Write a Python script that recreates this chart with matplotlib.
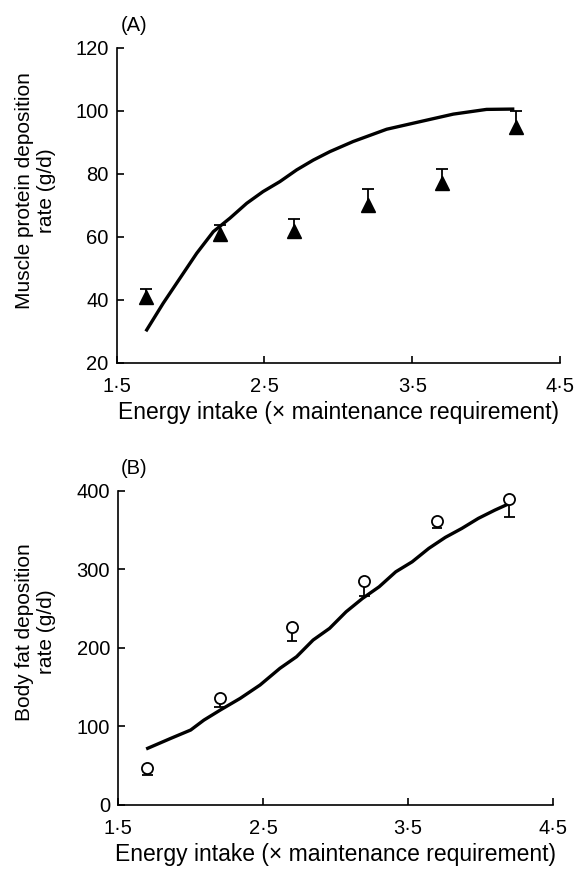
import matplotlib
matplotlib.use('Agg')
import matplotlib.pyplot as plt
import numpy as np

plt.rcParams['font.family'] = ['Liberation Sans', 'DejaVu Sans']

# energy intake levels (x maintenance)
intake = [1.7, 2.2, 2.7, 3.2, 3.7, 4.2]

# (A) muscle protein deposition, observed mean and top of error bar
protein_obs = [41, 61, 62, 70, 77, 95]
protein_top = [43.6, 63.7, 65.6, 75.2, 81.6, 100.1]
# model curve
protein_x = [1.703, 1.815, 1.928, 2.041, 2.154, 2.267, 2.38, 2.49, 2.605, 2.718, 2.83,
             2.943, 3.10, 3.327, 3.552, 3.778, 4.003, 4.18]
protein_y = [30.5, 39.0, 46.9, 54.8, 61.7, 66.0, 70.7, 74.4, 77.6, 81.3, 84.4,
             87.1, 90.3, 94.2, 96.6, 99.0, 100.5, 100.6]

# (B) body fat deposition, observed mean and bottom of error bar
fat_obs = [47, 136, 227, 285, 361, 389]
fat_bottom = [38, 125, 209, 266, 352, 366]
fat_x = [1.703, 1.863, 2.0, 2.091, 2.205, 2.342, 2.479, 2.616, 2.731, 2.845, 2.959, 3.073,
         3.187, 3.301, 3.416, 3.529, 3.644, 3.758, 3.872, 3.986, 4.10, 4.192]
fat_y = [72.1, 84.8, 95.4, 108, 120.9, 135.7, 152.7, 173.9, 188.7, 209.9, 224.8, 245.9,
         263, 277.7, 296.8, 309.5, 326.6, 340.6, 352, 364.8, 375.3, 383]

xticks = [1.5, 2.5, 3.5, 4.5]
xticklabels = ['1·5', '2·5', '3·5', '4·5']

fig = plt.figure(figsize=(5.77, 8.69), dpi=100)
axA = fig.add_axes([0.2023, 0.5823, 0.7682, 0.3625])
axB = fig.add_axes([0.2050, 0.0737, 0.7530, 0.3616])

tick_fs = 14.5
xlab_fs = 16.5
ylab_fs = 15


def style(ax, ylim, yticks):
    ax.set_xlim(1.5, 4.5)
    ax.set_ylim(*ylim)
    ax.set_xticks(xticks)
    ax.set_xticklabels(xticklabels)
    ax.set_yticks(yticks)
    for s in ['top', 'right']:
        ax.spines[s].set_visible(False)
    for s in ['left', 'bottom']:
        ax.spines[s].set_linewidth(1.2)
    ax.tick_params(direction='in', length=5, width=1.2, labelsize=tick_fs)
    ax.tick_params(axis='x', pad=10)
    ax.tick_params(axis='y', pad=6)
    ax.set_xlabel('Energy intake (× maintenance requirement)', fontsize=xlab_fs, labelpad=4)


# panel A
style(axA, (20, 120), [20, 40, 60, 80, 100, 120])
axA.plot(protein_x, protein_y, color='black', lw=2.4, zorder=2)
axA.vlines(intake, protein_obs, protein_top, color='black', lw=1.3, zorder=3)
axA.hlines(protein_top, np.array(intake) - 0.04, np.array(intake) + 0.04, color='black', lw=1.3, zorder=3)
axA.plot(intake, protein_obs, linestyle='none', marker='^', ms=10, color='black', zorder=4, clip_on=False)
axA.set_ylabel('Muscle protein deposition\nrate (g/d)', fontsize=ylab_fs)
axA.yaxis.set_label_coords(-0.137, 0.547)
axA.text(0.01, 1.07, '(A)', transform=axA.transAxes, fontsize=tick_fs, va='center')

# panel B
style(axB, (0, 400), [0, 100, 200, 300, 400])
axB.plot(fat_x, fat_y, color='black', lw=2.4, zorder=2)
axB.vlines(intake, fat_bottom, fat_obs, color='black', lw=1.3, zorder=3)
axB.hlines(fat_bottom, np.array(intake) - 0.037, np.array(intake) + 0.037, color='black', lw=1.3, zorder=3)
axB.plot(intake, fat_obs, linestyle='none', marker='o', ms=8, mfc='white', mec='black', mew=1.3, zorder=4)
axB.set_ylabel('Body fat deposition\nrate (g/d)', fontsize=ylab_fs)
axB.yaxis.set_label_coords(-0.143, 0.551)
axB.text(0.006, 1.072, '(B)', transform=axB.transAxes, fontsize=tick_fs, va='center')

fig.savefig('out.png', dpi=100)
